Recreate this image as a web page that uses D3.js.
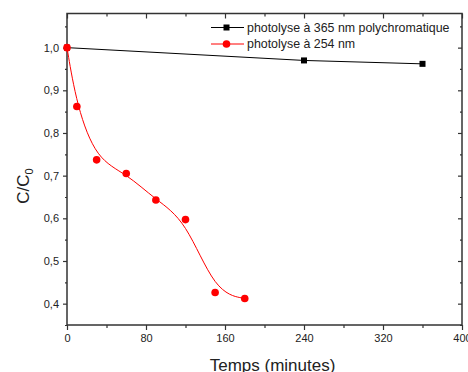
<!DOCTYPE html>
<html>
<head>
<meta charset="utf-8">
<script src="https://cdn.jsdelivr.net/npm/d3@7"></script>
<style>
  body { margin: 0; background: #fff; }
  text { font-family: "Liberation Sans", Arial, sans-serif; fill: #222; }
</style>
</head>
<body>
<div id="chart"></div>
<script>
// time in minutes, C/C0
const time365 = [0, 240, 360];
const ratio365 = [1.0, 0.970, 0.962];
const time254 = [0, 10, 30, 60, 90, 120, 150, 180];
const ratio254 = [1.0, 0.862, 0.737, 0.705, 0.643, 0.597, 0.426, 0.412];
const xTicks = [0, 80, 160, 240, 320, 400];
const yTicks = [0.4, 0.5, 0.6, 0.7, 0.8, 0.9, 1.0];
const seriesNames = ["photolyse à 365 nm polychromatique", "photolyse à 254 nm"];

const width = 468, height = 372;
const margin = { top: 13.5, right: 6, bottom: 47, left: 67 };
const w = width - margin.left - margin.right;
const h = height - margin.top - margin.bottom;

const svg = d3.select("#chart").append("svg")
  .attr("width", width)
  .attr("height", height);
const g = svg.append("g")
  .attr("transform", "translate(" + margin.left + "," + margin.top + ")");

const x = d3.scaleLinear().domain([0, 400]).range([0, w]);
const y = d3.scaleLinear().domain([0.35, 1.08]).range([h, 0]);

const fmt = d => d3.format(".1f")(d).replace(".", ",");
const xMinor = d3.range(40, 400, 80);
const yMinor = d3.range(0.35, 1.08, 0.1);

// frame
g.append("rect")
  .attr("width", w).attr("height", h)
  .attr("fill", "none").attr("stroke", "#333").attr("stroke-width", 1.5);

// bottom axis
const axBottom = g.append("g").attr("transform", "translate(0," + h + ")");
axBottom.call(d3.axisBottom(x).tickValues(xTicks).tickFormat(d3.format("d")).tickSize(5).tickPadding(4));
axBottom.append("g").call(d3.axisBottom(x).tickValues(xMinor).tickFormat("").tickSize(3));

// top axis (ticks inward)
const axTop = g.append("g");
axTop.call(d3.axisBottom(x).tickValues(xTicks).tickFormat("").tickSize(5));
axTop.append("g").call(d3.axisBottom(x).tickValues(xMinor).tickFormat("").tickSize(3));

// left axis
const axLeft = g.append("g");
axLeft.call(d3.axisLeft(y).tickValues(yTicks).tickFormat(fmt).tickSize(4).tickPadding(4));
axLeft.append("g").call(d3.axisLeft(y).tickValues(yMinor).tickFormat("").tickSize(2));

// right axis (ticks inward)
const axRight = g.append("g").attr("transform", "translate(" + w + ",0)");
axRight.call(d3.axisLeft(y).tickValues(yTicks).tickFormat("").tickSize(4));
axRight.append("g").call(d3.axisLeft(y).tickValues(yMinor).tickFormat("").tickSize(2));

g.selectAll(".domain").remove();
g.selectAll(".tick line").attr("stroke", "#333").attr("stroke-width", 1.2);
g.selectAll(".tick text").attr("font-size", 11).attr("fill", "#222");

// series 365 nm
const pts365 = time365.map((t, i) => [t, ratio365[i]]);
g.append("path")
  .datum(pts365)
  .attr("fill", "none").attr("stroke", "#000").attr("stroke-width", 1)
  .attr("d", d3.line().x(d => x(d[0])).y(d => y(d[1])));
g.selectAll(".sq").data(pts365).enter().append("rect")
  .attr("x", d => x(d[0]) - 3).attr("y", d => y(d[1]) - 3)
  .attr("width", 6).attr("height", 6).attr("fill", "#000");

// series 254 nm
const pts254 = time254.map((t, i) => [t, ratio254[i]]);
g.append("path")
  .datum(pts254)
  .attr("fill", "none").attr("stroke", "#ff0000").attr("stroke-width", 1)
  .attr("d", d3.line().x(d => x(d[0])).y(d => y(d[1])).curve(d3.curveBasis));
g.selectAll(".dot").data(pts254).enter().append("circle")
  .attr("cx", d => x(d[0])).attr("cy", d => y(d[1]))
  .attr("r", 3.8).attr("fill", "#ff0000");

// legend
const legend = g.append("g").attr("transform", "translate(144,14)");
const colors = ["#000", "#ff0000"];
seriesNames.forEach((name, i) => {
  const row = legend.append("g").attr("transform", "translate(0," + (i * 16.5) + ")");
  row.append("line").attr("x1", 0).attr("x2", 33).attr("y1", 0).attr("y2", 0)
    .attr("stroke", colors[i]).attr("stroke-width", 1);
  if (i === 0) {
    row.append("rect").attr("x", 12.5).attr("y", -3).attr("width", 6).attr("height", 6).attr("fill", "#000");
  } else {
    row.append("circle").attr("cx", 15.5).attr("cy", 0).attr("r", 3.8).attr("fill", "#ff0000");
  }
  row.append("text").attr("x", 36).attr("y", 4.4)
    .attr("font-size", 12.4).text(name);
});

// axis titles
svg.append("text")
  .attr("x", margin.left + w / 2 + 8).attr("y", 371)
  .attr("text-anchor", "middle").attr("font-size", 17)
  .text("Temps (minutes)");

const yt = svg.append("text")
  .attr("transform", "translate(29,186) rotate(-90)")
  .attr("text-anchor", "middle").attr("font-size", 17);
yt.append("tspan").text("C/C");
yt.append("tspan").attr("font-size", 11).attr("dy", 4).text("0");
</script>
</body>
</html>
